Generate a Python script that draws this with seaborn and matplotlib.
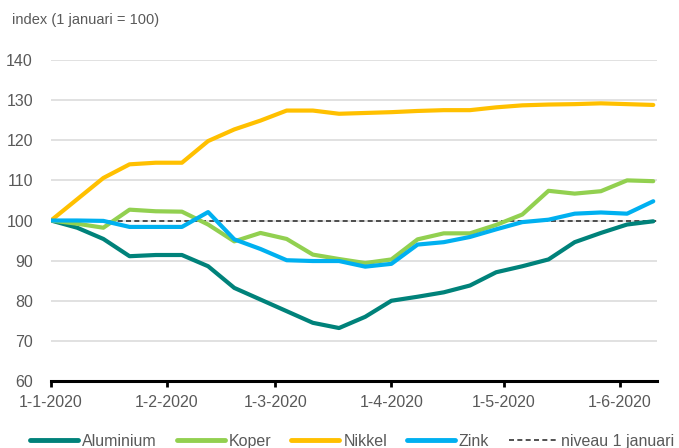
import matplotlib
matplotlib.use("Agg")
import matplotlib.pyplot as plt
import matplotlib.dates as mdates
import seaborn as sns
import pandas as pd
import numpy as np
from matplotlib.lines import Line2D

dates = pd.date_range("2020-01-01", periods=24, freq="7D")
aluminium = [100, 98.2, 95.4, 91.1, 91.4, 91.4, 88.6, 83.2, 80.3, 77.4, 74.5, 73.2,
             76.0, 80.0, 81.0, 82.1, 83.8, 87.1, 88.6, 90.3, 94.6, 96.9, 99.0, 99.8]
koper = [100, 99.2, 98.2, 102.7, 102.3, 102.2, 99.0, 94.8, 96.9, 95.4, 91.5, 90.4,
         89.4, 90.3, 95.3, 96.8, 96.8, 98.9, 101.5, 107.4, 106.7, 107.3, 110.0, 109.8]
nikkel = [100, 105.3, 110.6, 114.0, 114.4, 114.4, 119.8, 122.7, 124.9, 127.4, 127.4, 126.6,
          126.8, 127.0, 127.3, 127.5, 127.5, 128.2, 128.7, 128.9, 129.0, 129.2, 129.0, 128.8]
zink = [100, 100, 99.9, 98.4, 98.4, 98.4, 102.1, 95.3, 92.9, 90.1, 89.9, 89.9,
        88.5, 89.2, 94.0, 94.6, 95.9, 97.8, 99.6, 100.2, 101.7, 102.0, 101.7, 104.8]
series_names = ["Aluminium", "Koper", "Nikkel", "Zink"]
colors = ["#00827A", "#92D050", "#FFC000", "#00B0F0"]
baseline_label = "niveau 1 januari"
baseline_value = 100
y_ticks = [60, 70, 80, 90, 100, 110, 120, 130, 140]
x_tick_dates = pd.to_datetime(["2020-01-01", "2020-02-01", "2020-03-01",
                               "2020-04-01", "2020-05-01", "2020-06-01"])
title = "index (1 januari = 100)"

df = pd.DataFrame({"datum": dates, "Aluminium": aluminium, "Koper": koper,
                   "Nikkel": nikkel, "Zink": zink})
long = df.melt(id_vars="datum", var_name="metaal", value_name="index")

sns.set_theme(style="white")
plt.rcParams["font.family"] = ["Liberation Sans", "DejaVu Sans"]
grey = "#595959"

fig = plt.figure(figsize=(6.79, 4.48), dpi=100)
ax = fig.add_axes([51/679, 1-381/448, (657-51)/679, (381-60)/448])

for yt in y_ticks[1:]:
    ax.axhline(yt, color="#D9D9D9", lw=1.1, zorder=0)

sns.lineplot(data=long, x="datum", y="index", hue="metaal", hue_order=series_names,
             palette=colors, linewidth=3, ax=ax, legend=False, zorder=3)
ax.plot([dates[0], pd.Timestamp("2020-06-11")], [baseline_value]*2, ls=(0, (3, 2)),
        color="#333333", lw=1.2, zorder=2)

ax.set_xlim(pd.Timestamp("2020-01-01"), pd.Timestamp("2020-06-11"))
ax.set_ylim(60, 140)
ax.set_yticks(y_ticks)
ax.set_xticks(x_tick_dates)
ax.set_xticklabels([f"{d.day}-{d.month}-{d.year}" for d in x_tick_dates])
ax.set_xlabel("")
ax.set_ylabel("")
for s in ["top", "right", "left"]:
    ax.spines[s].set_visible(False)
ax.spines["bottom"].set_color("black")
ax.spines["bottom"].set_linewidth(2.2)
ax.spines["bottom"].set_zorder(5)
ax.tick_params(axis="y", length=0, pad=13, labelsize=11.5, labelcolor=grey)
ax.tick_params(axis="x", length=4, width=2, color="black", direction="out",
               pad=6, labelsize=11.5, labelcolor=grey, bottom=True)

fig.text(12/679, 1-20/448, title, fontsize=10.5, color=grey, va="center", ha="left")

handles = [Line2D([], [], color=c, lw=3.5) for c in colors]
handles.append(Line2D([], [], color="#333333", lw=1.2, ls=(0, (3, 2))))
labels = series_names + [baseline_label]
fig.legend(handles, labels, loc="center", bbox_to_anchor=(0.519, 1-441/448), ncol=5,
           frameon=False, fontsize=11.5, handlelength=3.0, handletextpad=0.25,
           columnspacing=1.25, labelcolor=grey, borderaxespad=0, borderpad=0)

fig.savefig("out.png", dpi=100)
